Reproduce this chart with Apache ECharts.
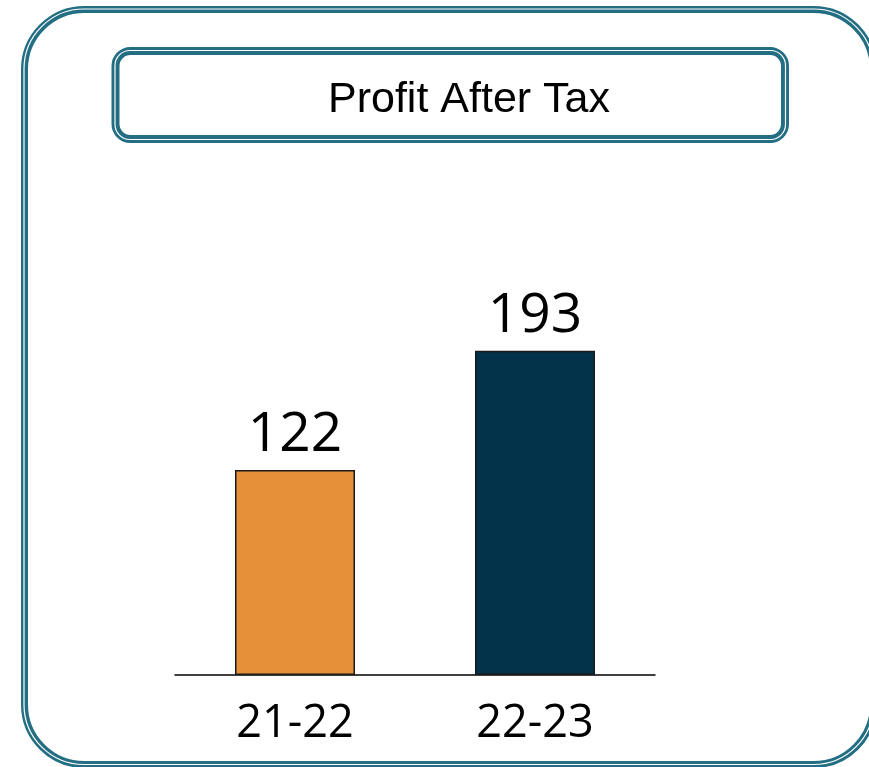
<!DOCTYPE html>
<html>
<head>
<meta charset="utf-8">
<script src="https://cdn.jsdelivr.net/npm/echarts@6/dist/echarts.min.js"></script>
<style>
  html, body { margin: 0; padding: 0; background: #ffffff; }
  #chart { width: 869px; height: 767px; }
</style>
</head>
<body>
<div id="chart"></div>
<script>
const categories = ['21-22', '22-23'];
const profitValues = [122, 193];
const barColors = ['#e6913a', '#03334a'];
const titleText = 'Profit After Tax';

const chart = echarts.init(document.getElementById('chart'), null, { renderer: 'canvas' });
const frameColor = '#236e83';

const option = {
  backgroundColor: '#ffffff',
  animation: false,
  grid: { left: 175, right: 214, top: 255, bottom: 92, containLabel: false },
  xAxis: {
    type: 'category',
    data: categories,
    axisLine: { show: true, lineStyle: { color: '#000000', width: 1.5 } },
    axisTick: { show: false },
    axisLabel: {
      margin: 27,
      color: '#000000',
      fontFamily: 'Open Sans',
      fontSize: 45
    }
  },
  yAxis: {
    type: 'value',
    min: 0,
    max: 250,
    show: false,
    splitLine: { show: false }
  },
  series: [{
    type: 'bar',
    barWidth: '50%',
    data: profitValues.map((v, i) => ({
      value: v,
      itemStyle: { color: barColors[i], borderColor: '#1a1a1a', borderWidth: 1.5 }
    })),
    label: {
      show: true,
      position: 'top',
      distance: 7,
      color: '#000000',
      fontFamily: 'Open Sans',
      fontSize: 55
    }
  }],
  graphic: [
    {
      type: 'rect', silent: true,
      shape: { x: 24.5, y: 9.5, width: 849, height: 755, r: 60 },
      style: { fill: 'none', stroke: frameColor, lineWidth: 7 }
    },
    {
      type: 'rect', silent: true,
      shape: { x: 24, y: 9, width: 849.5, height: 755.5, r: 60 },
      style: { fill: 'none', stroke: '#ffffff', lineWidth: 1.2 }
    },
    {
      type: 'rect', silent: true,
      shape: { x: 115.5, y: 51, width: 669.5, height: 88, r: 15 },
      style: { fill: 'none', stroke: frameColor, lineWidth: 8 }
    },
    {
      type: 'rect', silent: true,
      shape: { x: 115, y: 50.5, width: 670.5, height: 89, r: 15 },
      style: { fill: 'none', stroke: '#ffffff', lineWidth: 1.2 }
    },
    {
      type: 'text', silent: true,
      x: 469, y: 100,
      style: {
        text: titleText,
        fill: '#000000',
        font: '43px "Liberation Sans", Arial, sans-serif',
        textAlign: 'center',
        textVerticalAlign: 'middle'
      }
    }
  ]
};
chart.setOption(option);
</script>
</body>
</html>
